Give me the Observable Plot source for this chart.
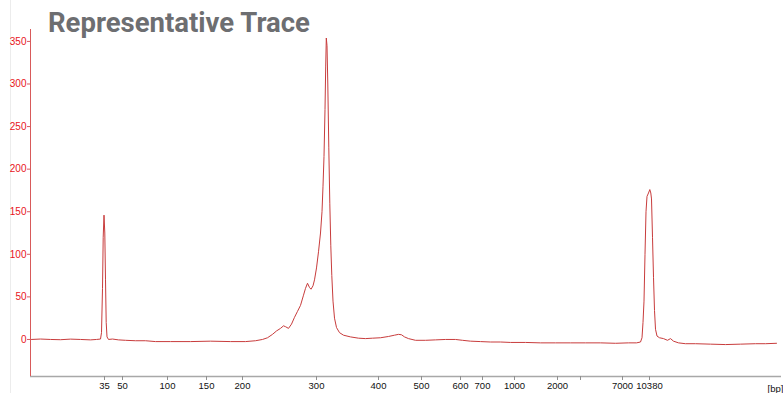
<!DOCTYPE html>
<html><head><meta charset="utf-8">
<script src="https://cdn.jsdelivr.net/npm/d3@7"></script>
<script src="https://cdn.jsdelivr.net/npm/@observablehq/plot@0.6"></script>
<style>
html,body{margin:0;padding:0;background:#fff;}
#wrap{position:relative;width:783px;height:393px;overflow:hidden;}
#wrap svg{position:absolute;left:0;top:0;}
#title{position:absolute;left:48px;top:9px;margin:0;font:bold 27.5px/27.5px Roboto, sans-serif;color:#6d6e71;white-space:nowrap;}
#edge{position:absolute;left:10px;top:0;width:1px;height:393px;background:#ececec;}
</style></head><body>
<div id="wrap"><div id="edge"></div></div>
<script>
// Size-standard ladder: label (bp) and migration position
const sizeLabels = ["35","50","100","150","200","300","400","500","600","700","1000","2000","","7000","10380"];
const sizeTimes  = [104,122,167,206,242,316,378,421,460,482,514,557,580,622,649];
const yTicks = [0,50,100,150,200,250,300,350];

// Trace: migration position and fluorescence units
const traceT = [31,40,50,60,70,80,90,96,100,
  101,102,102.7,103.5,104.3,105,105.7,106.5,108,112,118,125,135,145,155,170,190,210,230,245,255,262,267,272,276,280,283,285,288,291,294,297,300,303,305,307,309,310.5,312.5,314,316,318,320,321.5,322.5,323.5,324.5,325.2,325.8,326.5,327.3,328.3,329.3,330.3,331.3,332.5,334,336,339,343,350,358,365,372,380,388,394,398,401,404,408,415,425,435,445,455,462,470,480,490,500,510,525,540,555,570,585,600,615,628,636,640,641.5,642.5,643.5,644.5,645.5,646.5,648,649.3,650.3,651,652,653,654,655,656.5,659,663,667,670,673,678,685,695,710,725,740,755,765,776];
const traceV = [0,0.5,0,-0.3,0.4,0,-0.5,0,0.5,
  8,60,120,146,125,70,20,3,0,0.5,-0.5,-1,-1.5,-1.5,-2.5,-2.5,-2.5,-2,-2.5,-2.5,-1.5,0,2,6,10,13,16,15,13,18,26,33,40,52,60,66,61,59,63,70,84,103,125,150,180,215,270,320,354,345,300,225,160,110,75,45,25,14,8,5,3,1.5,1,1.5,2,3.5,5,6,5.5,3,1,-1,-1,-0.5,0,0,-1,-2,-2.5,-3,-3,-3.5,-3.5,-4,-4,-4,-4,-4,-4.5,-4,-4,-3,2,20,45,100,150,168,172,176,172,165,120,73,34,12,4,2,1,-1,1,-2,-4,-5,-5,-5.5,-6,-5.5,-5,-5,-4.5];

const xDomain = [30, 781];
const yDomain = [-43.5, 364];
const data = traceT.map((t, i) => ({t, v: traceV[i]}));
const labelOf = new Map(sizeTimes.map((t, i) => [t, sizeLabels[i]]));

const chart = Plot.plot({
  width: 783, height: 393,
  marginLeft: 30, marginRight: 2, marginTop: 29, marginBottom: 17,
  x: {domain: xDomain},
  y: {domain: yDomain},
  style: {fontFamily: "'Liberation Sans Narrow', sans-serif", fontSize: "9.5px", background: "transparent", overflow: "visible"},
  marks: [
    Plot.ruleY([yDomain[0]], {stroke: "#a8a8a8", strokeWidth: 1.5}),
    Plot.ruleX([xDomain[0]], {stroke: "#d85a5a", strokeWidth: 1}),
    Plot.axisY({ticks: yTicks, tickSize: 3, tickPadding: 1, stroke: "#d85a5a", fill: "#e8141b", fontSize: 10, label: null}),
    Plot.axisX({ticks: sizeTimes, tickFormat: d => labelOf.get(d), tickSize: 4, tickPadding: 2, stroke: "#909090", fill: "#111", label: null}),
    Plot.text(["[bp]"], {x: xDomain[1], y: yDomain[0], dx: -14, dy: 12, textAnchor: "start", fill: "#111"}),
    Plot.line(data, {x: "t", y: "v", stroke: "#c83c3c", strokeWidth: 1})
  ]
});
const wrap = document.getElementById("wrap");
wrap.appendChild(chart);
const title = document.createElement("h1");
title.id = "title";
title.textContent = "Representative Trace";
wrap.appendChild(title);
</script>
</body></html>
